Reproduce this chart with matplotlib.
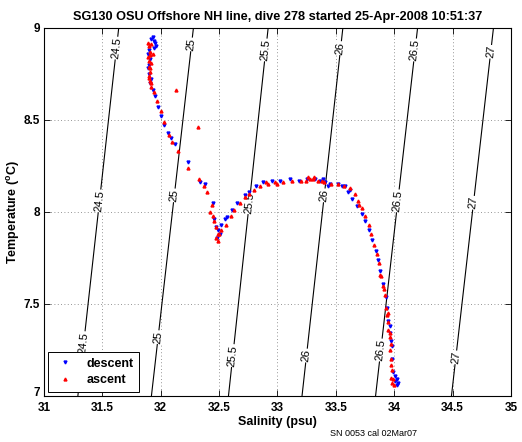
import numpy as np
import matplotlib
matplotlib.use('Agg')
import matplotlib.pyplot as plt

plt.rcParams['font.family'] = ['Liberation Sans', 'DejaVu Sans']
plt.rcParams['font.weight'] = 'bold'

# sigma-theta contours: salinity where each level crosses T=7 and T=9
sigma_levels = [24.5, 25, 25.5, 26, 26.5, 27]
sigma_labels = ['24.5', '25', '25.5', '26', '26.5', '27']
line_temps = [7.0, 9.0]
line_sal_t7 = [31.29, 31.92, 32.58, 33.21, 33.84, 34.49]
line_sal_t9 = [31.64, 32.28, 32.92, 33.56, 34.20, 34.85]
# temperature of inline labels (top, middle, bottom)
label_temps_top = [8.89, 8.91, 8.88, 8.89, 8.88, 8.87]
label_temps_mid = [8.06, 8.09, 8.05, 8.09, 8.06, 8.05]
label_temps_bot = [7.29, 7.32, 7.22, 7.22, 7.25, 7.21]

# descent (blue)
desc_sal = [31.93, 31.94, 31.95, 31.92, 31.96, 31.90, 31.89, 31.90, 31.89, 31.90,
            31.91, 31.93, 31.95, 31.98, 32.00, 32.03, 32.06, 32.09, 32.12, 32.23,
            32.34, 32.38, 32.45, 32.46, 32.49, 32.48, 32.52, 32.55, 32.57, 32.61,
            32.65, 32.72, 32.76, 32.82, 32.88, 32.95, 33.02, 33.11, 33.18, 33.25,
            33.32, 33.36, 33.39, 33.45, 33.52, 33.58, 33.60, 33.64, 33.68, 33.72,
            33.75, 33.78, 33.81, 33.84, 33.86, 33.88, 33.90, 33.93, 33.94, 33.95,
            33.96, 33.97, 33.98, 33.98, 33.99, 34.01, 34.02, 34.02, 34.03, 34.01,
            31.94, 31.92, 31.91, 32.51, 32.47, 33.41, 33.43, 33.55, 33.62, 33.96]
desc_temp = [8.95, 8.93, 8.92, 8.94, 8.90, 8.88, 8.86, 8.80, 8.78, 8.75,
             8.70, 8.66, 8.63, 8.57, 8.52, 8.47, 8.43, 8.40, 8.37, 8.27,
             8.16, 8.15, 8.05, 7.96, 7.90, 7.86, 7.93, 7.96, 7.97, 8.01,
             8.05, 8.09, 8.11, 8.14, 8.16, 8.17, 8.17, 8.18, 8.17, 8.18,
             8.18, 8.17, 8.18, 8.15, 8.15, 8.14, 8.11, 8.07, 8.03, 7.99,
             7.95, 7.90, 7.85, 7.79, 7.74, 7.68, 7.61, 7.54, 7.48, 7.41,
             7.34, 7.30, 7.27, 7.20, 7.13, 7.08, 7.06, 7.09, 7.07, 7.11,
             8.89, 8.72, 8.83, 7.88, 7.92, 8.16, 8.14, 8.14, 8.12, 7.38]

# ascent (red)
asc_sal = [33.98, 33.99, 34.00, 33.97, 33.98, 33.97, 33.96, 33.96, 33.95, 33.95,
           33.94, 33.93, 33.92, 33.90, 33.89, 33.87, 33.85, 33.83, 33.80, 33.78,
           33.75, 33.72, 33.69, 33.66, 33.62, 33.57, 33.52, 33.46, 33.40, 33.35,
           33.30, 33.26, 33.20, 33.12, 33.05, 32.98, 32.92, 32.85, 32.80, 32.76,
           32.72, 32.68, 32.63, 32.60, 32.56, 32.52, 32.49, 32.47, 32.47, 32.45,
           32.42, 32.44, 32.40, 32.37, 32.33, 32.32, 32.23, 32.15, 32.10, 32.07,
           32.13, 32.03, 32.00, 31.97, 31.94, 31.92, 31.91, 31.90, 31.91, 31.90,
           31.89, 31.91, 31.90, 31.92, 31.89, 31.90, 31.91, 31.90,
           33.97, 33.96, 33.95, 33.97, 33.28, 33.24, 33.31, 33.38, 33.00, 32.90,
           31.92, 31.93, 31.91, 31.92, 32.49, 32.50, 32.46, 33.91, 33.88, 33.70]
asc_temp = [7.07, 7.09, 7.06, 7.10, 7.14, 7.20, 7.25, 7.32, 7.36, 7.40,
            7.44, 7.48, 7.55, 7.60, 7.65, 7.72, 7.77, 7.82, 7.88, 7.93,
            7.98, 8.02, 8.06, 8.10, 8.13, 8.14, 8.15, 8.15, 8.16, 8.17,
            8.18, 8.19, 8.17, 8.17, 8.16, 8.16, 8.15, 8.14, 8.12, 8.10,
            8.08, 8.05, 8.01, 7.98, 7.93, 7.90, 7.88, 7.86, 7.92, 7.98,
            8.00, 8.04, 8.11, 8.14, 8.18, 8.46, 8.24, 8.33, 8.38, 8.42,
            8.66, 8.49, 8.55, 8.60, 8.65, 8.68, 8.71, 8.73, 8.76, 8.82,
            8.84, 8.87, 8.90, 8.91, 8.92, 8.79, 8.85, 8.74,
            7.28, 7.34, 7.45, 7.17, 8.18, 8.17, 8.19, 8.17, 8.15, 8.16,
            8.70, 8.86, 8.78, 8.81, 7.84, 7.88, 7.95, 7.58, 7.66, 8.04]

xticks = [31, 31.5, 32, 32.5, 33, 33.5, 34, 34.5, 35]
xtick_labels = ['31', '31.5', '32', '32.5', '33', '33.5', '34', '34.5', '35']
yticks = [7, 7.5, 8, 8.5, 9]
ytick_labels = ['7', '7.5', '8', '8.5', '9']


def main():
    fig = plt.figure(figsize=(5.22, 4.42), dpi=100)
    ax = fig.add_axes([0.0843, 0.104, 0.8946, 0.833])
    ax.set_xlim(31, 35)
    ax.set_ylim(7, 9)

    # density lines
    for i in range(len(sigma_levels)):
        s_line = [line_sal_t7[i], line_sal_t9[i]]
        ax.plot(s_line, line_temps, color='black', lw=0.8, zorder=2)
        p0 = ax.transData.transform((s_line[0], line_temps[0]))
        p1 = ax.transData.transform((s_line[1], line_temps[1]))
        angle = np.degrees(np.arctan2(p1[1] - p0[1], p1[0] - p0[0]))
        for t in (label_temps_top[i], label_temps_mid[i], label_temps_bot[i]):
            s = np.interp(t, line_temps, s_line)
            ax.text(s, t, sigma_labels[i], rotation=angle, ha='center', va='center',
                    fontsize=8, fontweight='normal', rotation_mode='anchor',
                    bbox=dict(facecolor='white', edgecolor='none', pad=0.5), zorder=3)

    ax.plot(desc_sal, desc_temp, linestyle='none', marker='v', ms=2.1,
            color='blue', mec='blue', label='descent', zorder=4)
    ax.plot(asc_sal, asc_temp, linestyle='none', marker='^', ms=2.1,
            color='red', mec='red', label='ascent', zorder=4)

    ax.set_xticks(xticks)
    ax.set_xticklabels(xtick_labels)
    ax.set_yticks(yticks)
    ax.set_yticklabels(ytick_labels)
    ax.tick_params(direction='in', length=4, labelsize=8.5, width=0.6, top=True, right=True,
                   labeltop=False, labelright=False, pad=3)
    ax.tick_params(axis='x', pad=4.5)
    # the "7" sits on the corner, a bit above the "31"
    ax.get_yticklabels()[0].set_va('baseline')
    ax.grid(True, linestyle=(0, (1, 3)), color='0.45', lw=0.6)
    for sp in ax.spines.values():
        sp.set_linewidth(0.8)

    ax.set_title('SG130 OSU Offshore NH line, dive 278 started 25-Apr-2008 10:51:37',
                 fontsize=9.2, fontweight='bold', pad=6)
    ax.set_xlabel('Salinity (psu)', fontsize=9, fontweight='bold', labelpad=1)
    ax.set_ylabel(r'Temperature ($\mathregular{^o}$C)', fontsize=9, fontweight='bold', labelpad=1)

    leg = ax.legend(loc='lower left', fontsize=9, fancybox=False, framealpha=1,
                    edgecolor='black', borderaxespad=0.35, handlelength=1.8,
                    markerscale=1.0, borderpad=0.45, labelspacing=0.35)
    leg.get_frame().set_linewidth(0.7)
    for txt in leg.get_texts():
        txt.set_fontweight('bold')

    fig.text(374 / 522, 1 - 433 / 442, 'SN 0053 cal 02Mar07', fontsize=6.5,
             fontweight='normal', ha='center', va='center')

    fig.savefig('out.png', dpi=100)


if __name__ == '__main__':
    main()
